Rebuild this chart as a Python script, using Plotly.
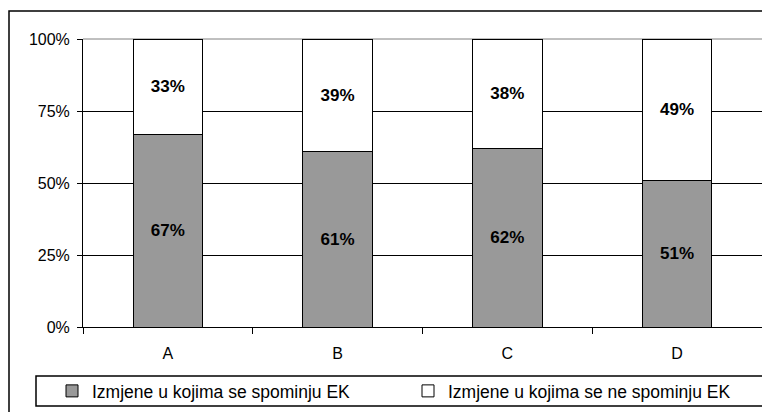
import plotly.graph_objects as go

categories = ["A", "B", "C", "D"]
mentions_ek = [67, 61, 62, 51]
no_mentions_ek = [33, 39, 38, 49]
series_names = ["Izmjene u kojima se spominju EK", "Izmjene u kojima se ne spominju EK"]
y_ticks = [0, 25, 50, 75, 100]
y_tick_labels = ["0%", "25%", "50%", "75%", "100%"]

W, H = 762, 412
L, R, T, B = 83, 0, 39, 85
pw, ph = W - L - R, H - T - B

def px_x(px):
    return (px - L) / pw

def px_y(py):
    return (H - B - py) / ph

fig = go.Figure()
fig.add_trace(go.Bar(
    x=categories, y=mentions_ek, name=series_names[0],
    marker=dict(color="#999999", line=dict(color="black", width=1)),
    width=0.41,
    texttemplate="<b>%{y}%</b>", textposition="inside", insidetextanchor="middle",
    textangle=0, constraintext="none",
    textfont=dict(family="Arial, Liberation Sans", size=17, color="black"),
    hoverinfo="skip",
))
fig.add_trace(go.Bar(
    x=categories, y=no_mentions_ek, name=series_names[1],
    marker=dict(color="white", line=dict(color="black", width=1)),
    width=0.41,
    texttemplate="<b>%{y}%</b>", textposition="inside", insidetextanchor="middle",
    textangle=0, constraintext="none",
    textfont=dict(family="Arial, Liberation Sans", size=17, color="black"),
    hoverinfo="skip",
))

shapes = [
    dict(type="line", xref="paper", yref="paper", x0=0, x1=1, y0=1, y1=1,
         line=dict(color="#808080", width=1), layer="between"),
    dict(type="rect", xref="paper", yref="paper",
         x0=px_x(9), x1=px_x(830), y0=px_y(11), y1=px_y(470),
         line=dict(color="black", width=1.5), fillcolor="rgba(0,0,0,0)", layer="below"),
    dict(type="rect", xref="paper", yref="paper",
         x0=px_x(36), x1=px_x(800), y0=px_y(376), y1=px_y(406),
         line=dict(color="black", width=1.5), fillcolor="rgba(0,0,0,0)", layer="above"),
]

fig.update_layout(
    width=W, height=H,
    margin=dict(l=L, r=R, t=T, b=B, autoexpand=False),
    paper_bgcolor="white", plot_bgcolor="white",
    barmode="stack", bargap=0.59,
    font=dict(family="Arial, Liberation Sans", size=16, color="black"),
    shapes=shapes,
    showlegend=True,
    legend=dict(
        orientation="h", x=px_x(52), y=px_y(391), xanchor="left", yanchor="middle",
        xref="paper", yref="paper",
        bgcolor="rgba(0,0,0,0)", borderwidth=0,
        font=dict(family="Arial, Liberation Sans", size=17.5, color="black"),
        entrywidth=311, entrywidthmode="pixels",
        traceorder="normal", itemclick=False, itemdoubleclick=False,
    ),
    xaxis=dict(
        type="category", range=[-0.5, 3.5],
        showline=True, linecolor="black", linewidth=1,
        ticks="outside", tickson="boundaries", ticklen=6, tickcolor="black", tickwidth=1,
        showgrid=False, ticklabelstandoff=12,
        tickfont=dict(size=16, color="black"),
    ),
    yaxis=dict(
        range=[0, 100], tickmode="array", tickvals=y_ticks, ticktext=y_tick_labels,
        showline=True, linecolor="black", linewidth=1,
        ticks="outside", ticklen=5, tickcolor="black", tickwidth=1,
        showgrid=True, gridcolor="black", gridwidth=1, zeroline=False,
        tickfont=dict(size=16, color="black"), ticklabelstandoff=4,
    ),
)

fig.write_html("out.html", config={"displayModeBar": False},
               post_script="document.body.style.margin='0';")
